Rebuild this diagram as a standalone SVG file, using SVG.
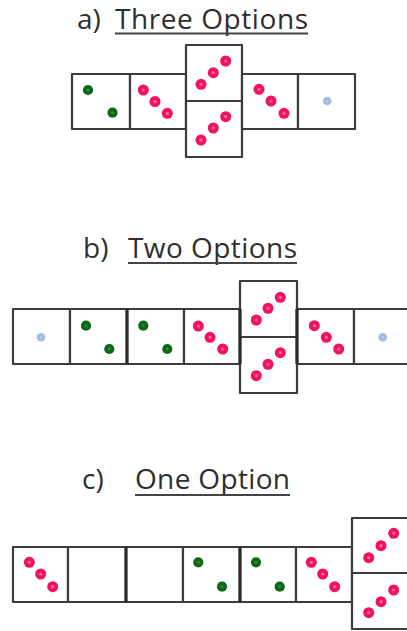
<svg xmlns="http://www.w3.org/2000/svg" xmlns:xlink="http://www.w3.org/1999/xlink" width="407" height="631" viewBox="0 0 407 631">
<style>
.cell{fill:#fff;stroke:#3c3c3c;stroke-width:2.2;stroke-linejoin:round}
.thick{stroke:#2c2c2c;stroke-width:3.2}
.t{font-family:"Open Sans","Liberation Sans",sans-serif;font-size:28px;fill:#2e2e2e}
.ul{stroke:#444;stroke-width:2}
</style>
<defs>
<g id="pk"><circle r="5.5" fill="#f5115d"/><circle r="1.6" fill="#ff6f9c"/></g>
<g id="gr"><circle r="5.1" fill="#0b6918"/><circle r="1.4" fill="#3a8a40"/></g>
<g id="bl"><circle r="4.3" fill="#a0bce4"/><circle r="1.3" fill="#b8cdec"/></g>
</defs>
<rect width="407" height="631" fill="#fff"/>

<g id="title-a">
<text class="t" x="77" y="29">a)</text>
<text class="t" x="115" y="29" textLength="193" lengthAdjust="spacing">Three Options</text>
<line class="ul" x1="115" y1="33.5" x2="308" y2="33.5"/>
</g>
<g id="a1"><rect class="cell" x="72" y="74" width="58" height="55"/><use xlink:href="#gr" x="88" y="90"/><use xlink:href="#gr" x="112.5" y="112.7"/></g>
<g id="a2"><rect class="cell" x="130" y="74" width="56" height="55"/><use xlink:href="#pk" x="143.3" y="90"/><use xlink:href="#pk" x="155" y="101.5"/><use xlink:href="#pk" x="167.3" y="113.3"/></g>
<g id="a3"><rect class="cell" x="186" y="45" width="56" height="56"/><use xlink:href="#pk" x="201" y="84.3"/><use xlink:href="#pk" x="213.3" y="72.7"/><use xlink:href="#pk" x="225.7" y="61"/></g>
<g id="a4"><rect class="cell" x="186" y="101" width="56" height="56"/><use xlink:href="#pk" x="201" y="140"/><use xlink:href="#pk" x="213.3" y="128"/><use xlink:href="#pk" x="225.7" y="116.7"/></g>
<g id="a5"><rect class="cell" x="242" y="74" width="56" height="55"/><use xlink:href="#pk" x="259" y="89.3"/><use xlink:href="#pk" x="271" y="101"/><use xlink:href="#pk" x="284" y="113.3"/></g>
<g id="a6"><rect class="cell" x="298" y="74" width="57" height="55"/><use xlink:href="#bl" x="327.3" y="101"/></g>

<g id="title-b">
<text class="t" x="83" y="258">b)</text>
<text class="t" x="128" y="258" textLength="169" lengthAdjust="spacing">Two Options</text>
<line class="ul" x1="128" y1="263" x2="297" y2="263"/>
</g>
<g id="b1"><rect class="cell" x="13" y="309" width="57" height="55"/><use xlink:href="#bl" x="41" y="337.3"/></g>
<g id="b2"><rect class="cell" x="70" y="309" width="57" height="55"/><use xlink:href="#gr" x="86" y="325.7"/><use xlink:href="#gr" x="109.3" y="349"/></g>
<g id="b3"><rect class="cell" x="127" y="309" width="57" height="55"/><use xlink:href="#gr" x="143.3" y="325.7"/><use xlink:href="#gr" x="167.3" y="349"/></g>
<g id="b4"><rect class="cell" x="184" y="309" width="56" height="55"/><use xlink:href="#pk" x="198.3" y="326"/><use xlink:href="#pk" x="210" y="337.3"/><use xlink:href="#pk" x="222.7" y="349"/></g>
<g id="b5"><rect class="cell" x="240" y="281" width="57" height="56"/><use xlink:href="#pk" x="256.3" y="320"/><use xlink:href="#pk" x="268" y="308.3"/><use xlink:href="#pk" x="280.3" y="297.3"/></g>
<g id="b6"><rect class="cell" x="240" y="337" width="57" height="56"/><use xlink:href="#pk" x="256.3" y="375.7"/><use xlink:href="#pk" x="268" y="364.3"/><use xlink:href="#pk" x="280.3" y="352.7"/></g>
<g id="b7"><rect class="cell" x="297" y="309" width="57" height="55"/><use xlink:href="#pk" x="314.3" y="325.7"/><use xlink:href="#pk" x="326.3" y="337.3"/><use xlink:href="#pk" x="338.7" y="349"/></g>
<g id="b8"><rect class="cell" x="354" y="309" width="57" height="55"/><use xlink:href="#bl" x="382.7" y="337.3"/></g>
<g id="b-edges"><line class="thick" x1="240" y1="309" x2="240" y2="364"/><line class="thick" x1="297" y1="309" x2="297" y2="364"/><line class="thick" x1="127" y1="309" x2="127" y2="364" stroke-width="2.6"/></g>

<g id="title-c">
<text class="t" x="82" y="489">c)</text>
<text class="t" x="135" y="489" textLength="155" lengthAdjust="spacing">One Option</text>
<line class="ul" x1="135" y1="495" x2="290" y2="495"/>
</g>
<g id="c1"><rect class="cell" x="13" y="547" width="55" height="55"/><use xlink:href="#pk" x="29.3" y="562.3"/><use xlink:href="#pk" x="40.7" y="574"/><use xlink:href="#pk" x="52.7" y="586.7"/></g>
<g id="c2"><rect class="cell" x="68" y="547" width="58" height="55"/></g>
<g id="c3"><rect class="cell" x="126" y="547" width="57" height="55"/></g>
<g id="c4"><rect class="cell" x="183" y="547" width="57" height="55"/><use xlink:href="#gr" x="198.3" y="562.3"/><use xlink:href="#gr" x="222" y="586.7"/></g>
<g id="c5"><rect class="cell" x="240" y="547" width="56" height="55"/><use xlink:href="#gr" x="256" y="562.3"/><use xlink:href="#gr" x="279.7" y="586.7"/></g>
<g id="c6"><rect class="cell" x="296" y="547" width="56" height="55"/><use xlink:href="#pk" x="311.3" y="562.3"/><use xlink:href="#pk" x="322.7" y="574"/><use xlink:href="#pk" x="334.7" y="586.7"/></g>
<g id="c7"><rect class="cell" x="352" y="518" width="57" height="55"/><use xlink:href="#pk" x="368.7" y="557.7"/><use xlink:href="#pk" x="381" y="545.7"/><use xlink:href="#pk" x="393.7" y="533.3"/></g>
<g id="c8"><rect class="cell" x="352" y="573" width="57" height="56"/><use xlink:href="#pk" x="368.7" y="612.7"/><use xlink:href="#pk" x="381" y="601.7"/><use xlink:href="#pk" x="393.7" y="590"/></g>
<g id="c-edges"><line class="thick" x1="126" y1="547" x2="126" y2="602"/><line class="thick" x1="240" y1="547" x2="240" y2="602"/></g>

<g id="connectors"/>
</svg>
